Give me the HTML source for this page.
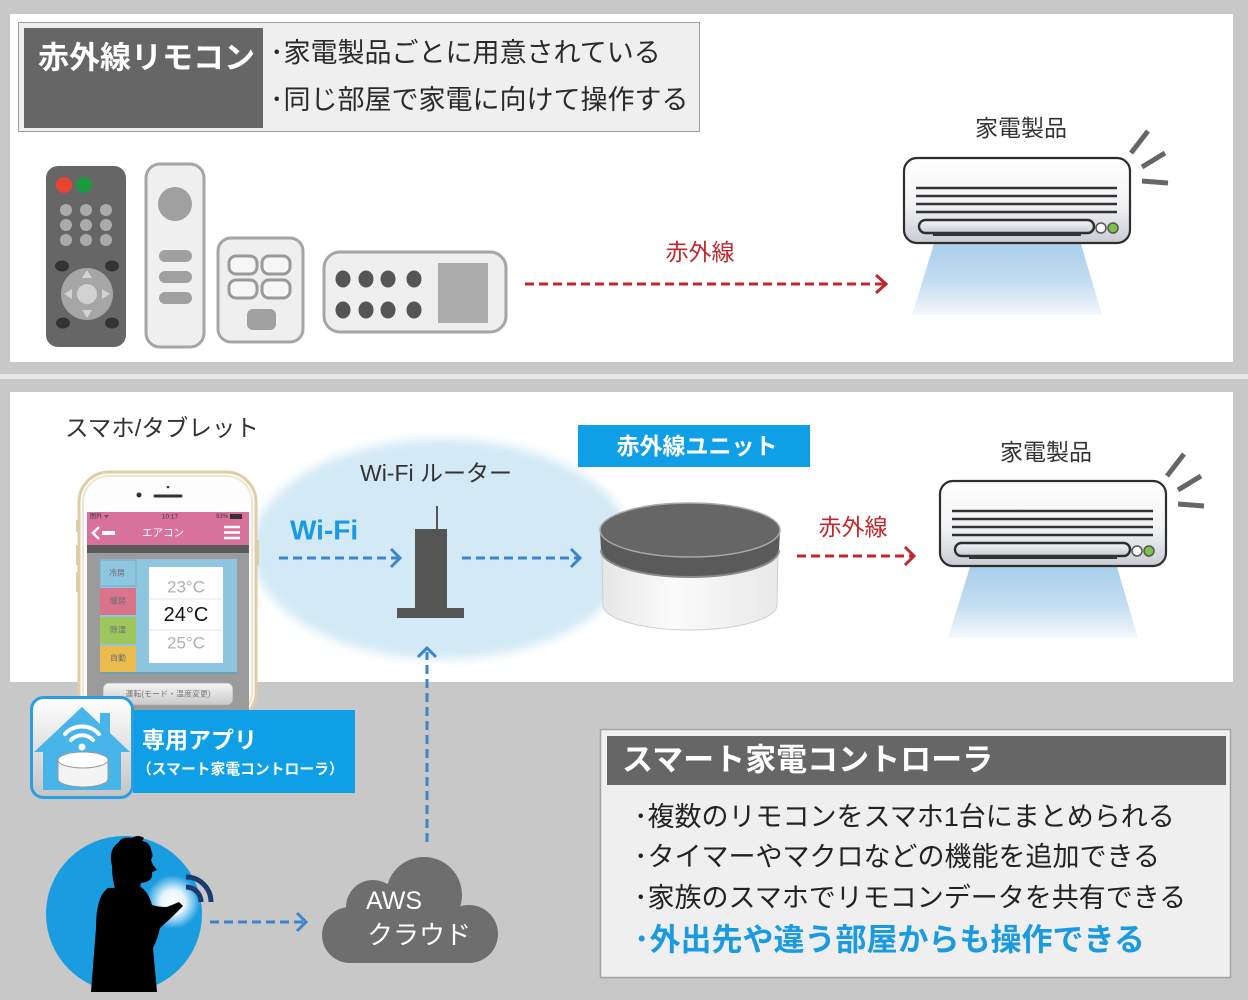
<!DOCTYPE html>
<html><head><meta charset="utf-8"><style>html,body{margin:0;padding:0;background:#c8c8c8}svg{display:block}</style></head>
<body>
<svg width="1248" height="1000" viewBox="0 0 1248 1000" xmlns="http://www.w3.org/2000/svg" font-family='"Liberation Sans","Noto Sans CJK JP",sans-serif'>
<defs>
  <linearGradient id="acBody" x1="0" y1="0" x2="0" y2="1">
    <stop offset="0" stop-color="#ffffff"/><stop offset="0.55" stop-color="#f2f3f5"/><stop offset="1" stop-color="#c9ccd1"/>
  </linearGradient>
  <linearGradient id="air" x1="0" y1="0" x2="0" y2="1">
    <stop offset="0" stop-color="#a4cbe9"/><stop offset="0.6" stop-color="#c4ddf1"/><stop offset="1" stop-color="#f4f8fc"/>
  </linearGradient>
  <linearGradient id="vent" x1="0" y1="0" x2="0" y2="1">
    <stop offset="0" stop-color="#f4f5f7"/><stop offset="1" stop-color="#c7ccd3"/>
  </linearGradient>
  <g id="ac">
    <polygon points="34,76 175,76 199,157 9,157" fill="url(#air)"/>
    <rect x="1" y="0" width="226" height="85" rx="13" fill="url(#acBody)" stroke="#2e2e2e" stroke-width="2.2"/>
    <line x1="13" y1="30" x2="214" y2="30" stroke="#333" stroke-width="2.6"/>
    <line x1="13" y1="38" x2="214" y2="38" stroke="#333" stroke-width="2.6"/>
    <line x1="13" y1="46" x2="214" y2="46" stroke="#333" stroke-width="2.6"/>
    <line x1="13" y1="54" x2="214" y2="54" stroke="#333" stroke-width="2.6"/>
    <rect x="16" y="62" width="175" height="13" rx="6.5" fill="url(#vent)" stroke="#2e2e2e" stroke-width="2.4"/>
    <rect x="30" y="74" width="148" height="4" fill="#333"/>
    <circle cx="198" cy="70" r="5" fill="#fff" stroke="#555" stroke-width="1.5"/>
    <circle cx="210" cy="70" r="5" fill="#7cc247" stroke="#555" stroke-width="1.5"/>
    <line x1="228" y1="-5" x2="245" y2="-27" stroke="#666" stroke-width="5"/>
    <line x1="239" y1="9" x2="262" y2="-5" stroke="#666" stroke-width="5"/>
    <line x1="239" y1="23" x2="265" y2="25" stroke="#666" stroke-width="5"/>
  </g>
  <filter id="blur" x="-10%" y="-10%" width="120%" height="120%"><feGaussianBlur stdDeviation="5"/></filter>
  <linearGradient id="iconBg" x1="0" y1="0" x2="0" y2="1">
    <stop offset="0" stop-color="#ffffff"/><stop offset="1" stop-color="#c4c4c4"/>
  </linearGradient>
  <radialGradient id="glow" cx="0.5" cy="0.5" r="0.5">
    <stop offset="0" stop-color="#ffffff"/><stop offset="0.45" stop-color="#ffffff" stop-opacity="0.9"/><stop offset="1" stop-color="#ffffff" stop-opacity="0"/>
  </radialGradient>
  <linearGradient id="puck" x1="0" y1="0" x2="1" y2="0">
    <stop offset="0" stop-color="#e6e6e6"/><stop offset="0.4" stop-color="#fbfbfb"/><stop offset="1" stop-color="#e9e9e9"/>
  </linearGradient>
  <linearGradient id="btn" x1="0" y1="0" x2="0" y2="1">
    <stop offset="0" stop-color="#f6f6f6"/><stop offset="1" stop-color="#c9c9c9"/>
  </linearGradient>
</defs>

<!-- backgrounds -->
<rect width="1248" height="1000" fill="#c8c8c8"/>
<rect x="10" y="14" width="1223" height="348" fill="#ffffff"/>
<rect x="0" y="374" width="1248" height="5" fill="#e8e8e8"/>
<rect x="10" y="392" width="1223" height="290" fill="#ffffff"/>

<!-- top header box -->
<rect x="18.5" y="22.5" width="681" height="109" fill="#efefef" stroke="#9e9e9e" stroke-width="1"/>
<rect x="24" y="28" width="239" height="100" fill="#666666"/>
<text x="38" y="58" font-size="31" font-weight="bold" fill="#ffffff" dominant-baseline="central">赤外線リモコン</text>
<text x="270" y="53" font-size="27" fill="#2a2a2a" dominant-baseline="central">･家電製品ごとに用意されている</text>
<text x="270" y="100" font-size="27" fill="#2a2a2a" dominant-baseline="central">･同じ部屋で家電に向けて操作する</text>

<!-- remote 1 -->
<rect x="46" y="166" width="80" height="181" rx="12" fill="#666666"/>
<circle cx="64" cy="185" r="8" fill="#e8432f"/>
<circle cx="84" cy="185" r="8" fill="#1a9a3d"/>
<g fill="#ababab">
  <circle cx="66" cy="210" r="6"/><circle cx="86" cy="210" r="6"/><circle cx="106" cy="210" r="6"/>
  <circle cx="66" cy="225" r="6"/><circle cx="86" cy="225" r="6"/><circle cx="106" cy="225" r="6"/>
  <circle cx="66" cy="240" r="6"/><circle cx="86" cy="240" r="6"/><circle cx="106" cy="240" r="6"/>
</g>
<g fill="#333333">
  <ellipse cx="62" cy="266" rx="7" ry="5.5"/><ellipse cx="112" cy="266" rx="7" ry="5.5"/>
  <ellipse cx="63" cy="323" rx="7" ry="5.5"/><ellipse cx="112" cy="323" rx="7" ry="5.5"/>
</g>
<circle cx="87" cy="294" r="26" fill="#a6a6a6"/>
<circle cx="87" cy="294" r="10" fill="#d2d2d2"/>
<g fill="#d2d2d2">
  <polygon points="87,270 92,278 82,278"/>
  <polygon points="87,318 92,310 82,310"/>
  <polygon points="64,294 72,289 72,299"/>
  <polygon points="110,294 102,289 102,299"/>
</g>

<!-- remote 2 -->
<rect x="146" y="164" width="58" height="183" rx="14" fill="#f0f0f0" stroke="#a5a5a5" stroke-width="3"/>
<circle cx="175" cy="204" r="17" fill="#a0a0a0"/>
<rect x="159" y="250" width="33" height="12" rx="6" fill="#a0a0a0"/>
<rect x="159" y="271" width="33" height="12" rx="6" fill="#a0a0a0"/>
<rect x="159" y="292" width="33" height="12" rx="6" fill="#a0a0a0"/>

<!-- remote 3 -->
<rect x="218" y="238" width="85" height="104" rx="13" fill="#efefef" stroke="#a5a5a5" stroke-width="3"/>
<g fill="#f6f6f6" stroke="#9a9a9a" stroke-width="3">
  <rect x="229" y="256" width="28" height="18" rx="7"/>
  <rect x="262" y="256" width="28" height="18" rx="7"/>
  <rect x="229" y="280" width="28" height="18" rx="7"/>
  <rect x="262" y="280" width="28" height="18" rx="7"/>
</g>
<rect x="247" y="309" width="29" height="21" rx="6" fill="#a0a0a0"/>

<!-- remote 4 -->
<rect x="324" y="252" width="182" height="80" rx="16" fill="#efefef" stroke="#a5a5a5" stroke-width="3"/>
<g fill="#555555">
  <ellipse cx="343" cy="279" rx="7.5" ry="8.5"/><ellipse cx="366" cy="279" rx="7.5" ry="8.5"/><ellipse cx="388" cy="279" rx="7.5" ry="8.5"/><ellipse cx="414" cy="279" rx="7.5" ry="8.5"/>
  <ellipse cx="343" cy="310" rx="7.5" ry="8.5"/><ellipse cx="366" cy="310" rx="7.5" ry="8.5"/><ellipse cx="388" cy="310" rx="7.5" ry="8.5"/><ellipse cx="414" cy="310" rx="7.5" ry="8.5"/>
</g>
<rect x="438" y="263" width="50" height="60" fill="#acacac"/>

<!-- red arrow top -->
<text x="700" y="252" text-anchor="middle" font-size="23" fill="#c1272d" dominant-baseline="central">赤外線</text>
<line x1="525" y1="284" x2="884" y2="284" stroke="#c1272d" stroke-width="3" stroke-dasharray="9 5"/>
<polyline points="876,275 886,284 876,293" fill="none" stroke="#c1272d" stroke-width="3"/>

<!-- AC top -->
<text x="1021" y="128" text-anchor="middle" font-size="23" fill="#333333" dominant-baseline="central">家電製品</text>
<use href="#ac" transform="translate(903,158)"/>

<!-- ===== bottom panel ===== -->
<ellipse cx="442" cy="549" rx="190" ry="110" fill="#d3e9f6" filter="url(#blur)"/>

<text x="65" y="428" font-size="23.5" fill="#333333" dominant-baseline="central">スマホ/タブレット</text>

<!-- phone -->
<rect x="79" y="472" width="177" height="250" rx="30" fill="#fdfdfd" stroke="#dfcda5" stroke-width="3"/>
<rect x="83" y="476" width="169" height="242" rx="26" fill="none" stroke="#efe6d2" stroke-width="2"/>
<rect x="76" y="520" width="3" height="12" fill="#dfcda5"/>
<rect x="76" y="545" width="3" height="20" fill="#dfcda5"/>
<rect x="76" y="572" width="3" height="20" fill="#dfcda5"/>
<rect x="256" y="540" width="3" height="25" fill="#dfcda5"/>
<circle cx="168" cy="487" r="1.3" fill="#333"/>
<circle cx="139" cy="495" r="2.5" fill="#333"/>
<line x1="155" y1="496" x2="181" y2="496" stroke="#333" stroke-width="3" stroke-linecap="round"/>
<rect x="87" y="512" width="162" height="205" fill="#9b9b9b"/>
<rect x="87" y="512" width="162" height="33" fill="#d8729b"/>
<text x="90" y="517" font-size="6" fill="#333" dominant-baseline="central">圏外 ᯤ</text>
<text x="170" y="517" font-size="6.5" fill="#333" text-anchor="middle" dominant-baseline="central">10:17</text>
<text x="228" y="517" font-size="6" fill="#333" text-anchor="end" dominant-baseline="central">93%</text>
<rect x="230" y="514" width="12" height="5" fill="#333"/>
<polyline points="99,527 93,533 99,539" fill="none" stroke="#fff" stroke-width="2.5"/>
<rect x="102" y="531" width="13" height="4" fill="#fff"/>
<text x="163" y="533" font-size="10.5" fill="#fff" text-anchor="middle" dominant-baseline="central">エアコン</text>
<line x1="224" y1="527" x2="240" y2="527" stroke="#fff" stroke-width="2.5"/>
<line x1="224" y1="532.5" x2="240" y2="532.5" stroke="#fff" stroke-width="2.5"/>
<line x1="224" y1="538" x2="240" y2="538" stroke="#fff" stroke-width="2.5"/>
<rect x="87" y="545" width="162" height="8" fill="#5b5b5b"/>
<rect x="100" y="560" width="137" height="114" fill="#6f9fb3"/>
<rect x="100" y="559" width="137" height="113" fill="#8dc6de"/>
<rect x="100" y="560" width="36" height="26" fill="#8dc6de" stroke="#79aac0" stroke-width="1"/>
<rect x="100" y="588" width="36" height="27" fill="#d9748b"/>
<rect x="100" y="617" width="36" height="27" fill="#9dc75d"/>
<rect x="100" y="646" width="36" height="26" fill="#ebbb4d"/>
<g font-size="8" fill="#6e6e6e" text-anchor="middle" dominant-baseline="central">
  <text x="117" y="573">冷房</text><text x="118" y="601">暖房</text><text x="118" y="630">除湿</text><text x="118" y="658">自動</text>
</g>
<rect x="149" y="567" width="74" height="96" fill="#ffffff"/>
<line x1="150" y1="599" x2="222" y2="599" stroke="#e4e4e4"/>
<line x1="150" y1="630" x2="222" y2="630" stroke="#e4e4e4"/>
<text x="186" y="587" font-size="17" fill="#b0b0b0" text-anchor="middle" dominant-baseline="central">23°C</text>
<text x="186" y="615" font-size="20" fill="#111" text-anchor="middle" dominant-baseline="central">24°C</text>
<text x="186" y="643" font-size="17" fill="#b0b0b0" text-anchor="middle" dominant-baseline="central">25°C</text>
<rect x="103" y="683" width="130" height="22" rx="6" fill="url(#btn)" stroke="#a8a8a8" stroke-width="0.8"/>
<text x="168" y="694" font-size="8" fill="#777" text-anchor="middle" dominant-baseline="central">運転(モード・温度変更)</text>

<!-- Wi-Fi router area -->
<text x="436" y="473" text-anchor="middle" font-size="23" fill="#333333" dominant-baseline="central">Wi-Fi ルーター</text>
<text x="290" y="530" font-size="28" font-weight="bold" fill="#1a9ae0" dominant-baseline="central">Wi-Fi</text>
<line x1="279" y1="558" x2="398" y2="558" stroke="#3b86c8" stroke-width="3" stroke-dasharray="9 5"/>
<polyline points="391,549 400,558 391,567" fill="none" stroke="#3b86c8" stroke-width="3"/>
<line x1="437" y1="506" x2="437" y2="530" stroke="#555" stroke-width="2"/>
<rect x="415" y="529" width="32" height="82" fill="#555555"/>
<rect x="397" y="608" width="67" height="10" fill="#555555"/>
<line x1="462" y1="558" x2="578" y2="558" stroke="#3b86c8" stroke-width="3" stroke-dasharray="9 5"/>
<polyline points="571,549 580,558 571,567" fill="none" stroke="#3b86c8" stroke-width="3"/>

<!-- IR unit -->
<rect x="578" y="425" width="232" height="42" fill="#0e9fe6"/>
<text x="697" y="446" text-anchor="middle" font-size="23" font-weight="bold" fill="#ffffff" dominant-baseline="central">赤外線ユニット</text>
<path d="M602 550 L603 605 A87 25 0 0 0 777 605 L778 550 Z" fill="url(#puck)" stroke="#cfcfcf" stroke-width="1"/>
<path d="M600 530 L601 550 A89 27 0 0 0 779 550 L780 530 Z" fill="#5a5a5a"/>
<path d="M601 550 A89 27 0 0 0 779 550" fill="none" stroke="#8a8a8a" stroke-width="2"/>
<ellipse cx="690" cy="530" rx="90" ry="27" fill="#666666" stroke="#a9a9a9" stroke-width="1.5"/>

<!-- red arrow 2 -->
<text x="853" y="527" text-anchor="middle" font-size="23" fill="#c1272d" dominant-baseline="central">赤外線</text>
<line x1="797" y1="556" x2="912" y2="556" stroke="#c1272d" stroke-width="3" stroke-dasharray="9 5"/>
<polyline points="905,547 914,556 905,565" fill="none" stroke="#c1272d" stroke-width="3"/>

<!-- AC bottom -->
<text x="1046" y="452" text-anchor="middle" font-size="23" fill="#333333" dominant-baseline="central">家電製品</text>
<use href="#ac" transform="translate(939,481)"/>

<!-- vertical blue arrow -->
<line x1="427" y1="842" x2="427" y2="652" stroke="#3b86c8" stroke-width="3" stroke-dasharray="9 5"/>
<polyline points="418,657 427,648 436,657" fill="none" stroke="#3b86c8" stroke-width="3"/>

<!-- app icon + label -->
<rect x="133" y="710" width="222" height="83" fill="#0e9fe6"/>
<text x="142" y="740" font-size="23" font-weight="bold" fill="#ffffff" dominant-baseline="central">専用アプリ</text>
<text x="137" y="770" font-size="14.8" font-weight="bold" fill="#ffffff" dominant-baseline="central">（スマート家電コントローラ）</text>
<rect x="31.5" y="697.5" width="101" height="100" rx="12" fill="url(#iconBg)" stroke="#2a9ee2" stroke-width="3"/>
<polygon points="34,752 82,707 100,724 100,713 110,713 110,733 130,752 121,752 121,790 43,790 43,752" fill="#47b5ea"/>
<g fill="none" stroke="#ffffff" stroke-width="4" stroke-linecap="round">
  <path d="M71 740 A15 15 0 0 1 93 740"/>
  <path d="M65 734 A23 23 0 0 1 99 734"/>
</g>
<circle cx="82" cy="747" r="3.5" fill="#fff"/>
<path d="M58 760 L58 779 A25 8 0 0 0 108 779 L108 760 Z" fill="#f4f4f4" stroke="#9a9a9a" stroke-width="1"/>
<ellipse cx="83" cy="760" rx="25" ry="8" fill="#ffffff" stroke="#9a9a9a" stroke-width="1"/>

<!-- person circle -->
<circle cx="124" cy="914" r="78" fill="#1a9ce0"/>
<circle cx="173" cy="902" r="27" fill="url(#glow)"/>
<g fill="#000000">
  <path d="M112 866 Q108 850 118 843 Q122 836 132 838 Q138 834 144 838 L142 841 Q150 842 151 850 Q154 855 151 860 L153 865 L157 870 L152 872 Q153 880 146 882 L141 883 L139 892 L116 892 Q112 880 112 866 Z"/>
  <path d="M108 888 Q96 896 96 928 L91 992 L157 992 L153 948 Q158 938 160 928 L171 918 L183 906 L179 902 L167 907 Q158 907 152 905 Q149 893 141 887 Z"/>
</g>
<g fill="none" stroke="#1b3b6e" stroke-width="5">
  <path d="M186 887 A15 15 0 0 1 201 902"/>
  <path d="M186 877 A25 25 0 0 1 211 902"/>
</g>
<line x1="210" y1="922" x2="303" y2="922" stroke="#3b86c8" stroke-width="3" stroke-dasharray="9 5"/>
<polyline points="297,913 306,922 297,931" fill="none" stroke="#3b86c8" stroke-width="3"/>

<!-- cloud -->
<g fill="#6e6e6e">
  <circle cx="424" cy="895" r="38"/>
  <circle cx="373" cy="907" r="27"/>
  <circle cx="350" cy="935" r="28"/>
  <circle cx="469" cy="934" r="29"/>
  <rect x="350" y="920" width="120" height="43"/>
  <rect x="380" y="905" width="70" height="30"/>
</g>
<text x="366" y="901" font-size="25" fill="#ffffff" dominant-baseline="central">AWS</text>
<text x="367" y="935" font-size="26" fill="#ffffff" dominant-baseline="central">クラウド</text>

<!-- right info box -->
<rect x="600.5" y="729.5" width="630" height="248" fill="#efefef" stroke="#a3a3a3" stroke-width="1.5"/>
<rect x="607" y="736" width="619" height="49" fill="#666666"/>
<text x="622" y="760" font-size="31" font-weight="bold" fill="#ffffff" dominant-baseline="central">スマート家電コントローラ</text>
<text x="634" y="817" font-size="27" fill="#222222" dominant-baseline="central">･複数のリモコンをスマホ1台にまとめられる</text>
<text x="634" y="857" font-size="27" fill="#222222" dominant-baseline="central">･タイマーやマクロなどの機能を追加できる</text>
<text x="634" y="898" font-size="27" fill="#222222" dominant-baseline="central">･家族のスマホでリモコンデータを共有できる</text>
<text x="634" y="940" font-size="31" font-weight="bold" fill="#1a9ae0" dominant-baseline="central">･外出先や違う部屋からも操作できる</text>
</svg>
</body></html>
